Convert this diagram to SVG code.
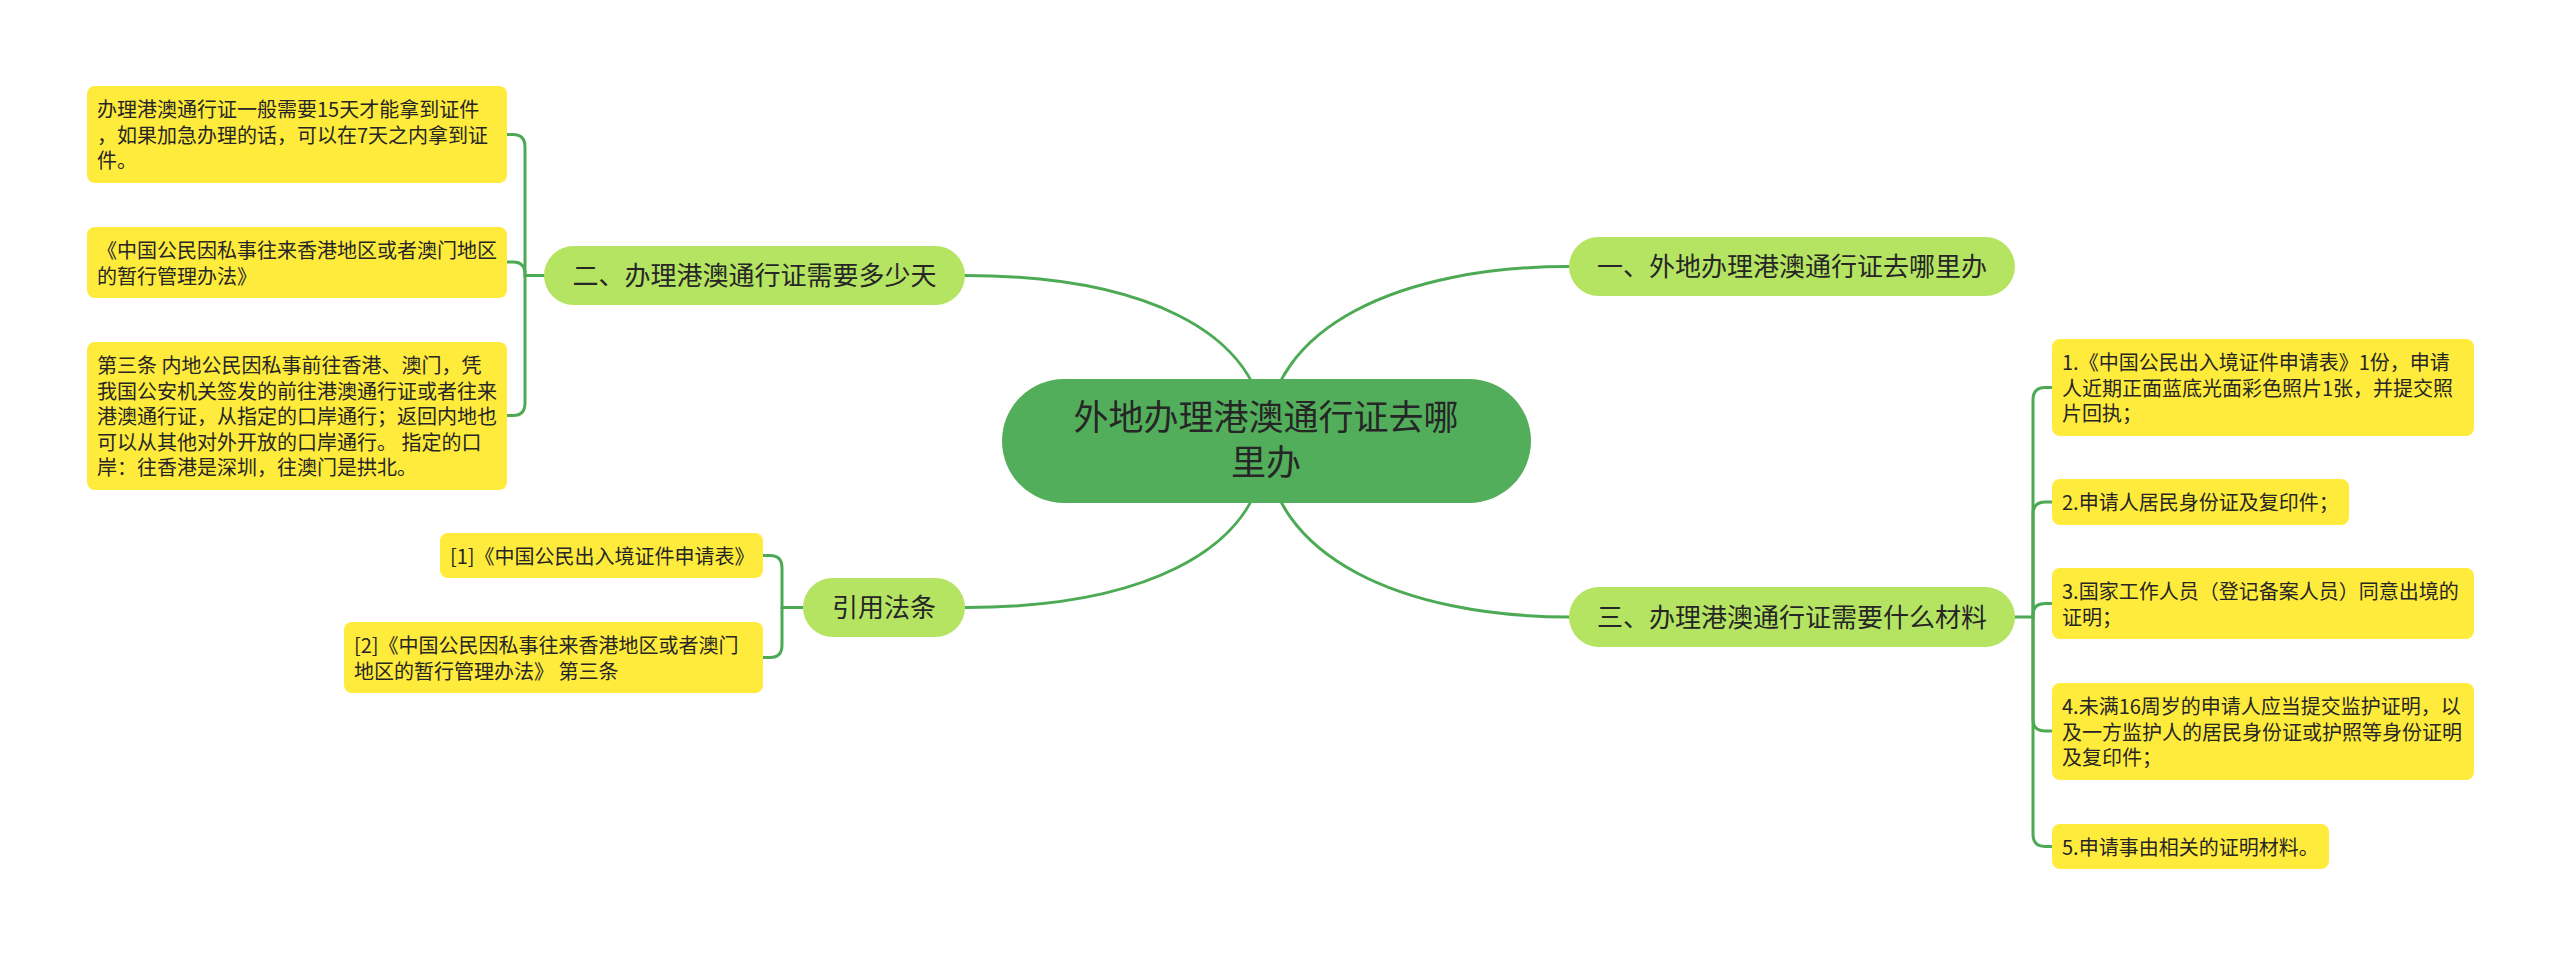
<svg xmlns="http://www.w3.org/2000/svg" width="2560" height="955" viewBox="0 0 2560 955">
<style>
.line{fill:none;stroke:#4caa55;stroke-width:3;stroke-linecap:round}
.root{fill:#52ae5b}
.branch{fill:#b5e462}
.leaf{fill:#ffeb3b}
text{font-family:"Noto Sans CJK SC","Noto Sans",sans-serif;fill:#262626}
.rt{font-size:35px;text-anchor:middle}
.bt{font-size:26px;text-anchor:middle}
.lt{font-size:20px}
</style>
<rect width="2560" height="955" fill="#ffffff"/>
<g id="connectors">
<path class="line" d="M1266,441 C1265,325 1130,275.5 965,275.5"/>
<path class="line" d="M1266,441 C1267,325 1404,266.5 1569,266.5"/>
<path class="line" d="M1266,441 C1265,557 1130,607.5 965,607.5"/>
<path class="line" d="M1266,441 C1267,557 1404,617 1569,617"/>
<path class="line" d="M544,275.5 H525 V147 Q525,134.5 513,134.5 H507"/>
<path class="line" d="M525,275.5 V274 Q525,262 513,262 H507"/>
<path class="line" d="M525,275.5 V403 Q525,415.5 513,415.5 H507"/>
<path class="line" d="M803,607.5 H782 V568 Q782,555.5 770,555.5 H763"/>
<path class="line" d="M782,607.5 V645 Q782,657.5 770,657.5 H763"/>
<path class="line" d="M2015,617 H2033 V400 Q2033,387.5 2045,387.5 H2052"/>
<path class="line" d="M2033,617 V514 Q2033,502 2045,502 H2052"/>
<path class="line" d="M2033,617 V615 Q2033,603.5 2045,603.5 H2052"/>
<path class="line" d="M2033,617 V719 Q2033,731 2045,731 H2052"/>
<path class="line" d="M2033,617 V834 Q2033,846.5 2045,846.5 H2052"/>
</g>
<g id="root">
<rect class="root" x="1002" y="379" width="529" height="124" rx="62"/>
<text class="rt" x="1266" y="430">外地办理港澳通行证去哪</text>
<text class="rt" x="1266" y="475">里办</text>
</g>
<g id="b2">
<rect class="branch" x="544" y="246" width="421" height="59" rx="29.5"/>
<text class="bt" x="754.5" y="285">二、办理港澳通行证需要多少天</text>
</g>
<g id="b4">
<rect class="branch" x="803" y="578" width="162" height="59" rx="29.5"/>
<text class="bt" x="884" y="617">引用法条</text>
</g>
<g id="b1">
<rect class="branch" x="1569" y="237" width="446" height="59" rx="29.5"/>
<text class="bt" x="1792" y="276">一、外地办理港澳通行证去哪里办</text>
</g>
<g id="b3">
<rect class="branch" x="1569" y="587" width="446" height="60" rx="30"/>
<text class="bt" x="1792" y="627">三、办理港澳通行证需要什么材料</text>
</g>
<g id="l1">
<rect class="leaf" x="87" y="86" width="420" height="97" rx="8"/>
<text class="lt" x="97" y="117">办理港澳通行证一般需要15天才能拿到证件</text>
<text class="lt" x="97" y="142.5">，如果加急办理的话，可以在7天之内拿到证</text>
<text class="lt" x="97" y="168">件。</text>
</g>
<g id="l2">
<rect class="leaf" x="87" y="227" width="420" height="71" rx="8"/>
<text class="lt" x="97" y="258">《中国公民因私事往来香港地区或者澳门地区</text>
<text class="lt" x="97" y="283.5">的暂行管理办法》</text>
</g>
<g id="l3">
<rect class="leaf" x="87" y="342" width="420" height="148" rx="8"/>
<text class="lt" x="97" y="373">第三条 内地公民因私事前往香港、澳门，凭</text>
<text class="lt" x="97" y="398.5">我国公安机关签发的前往港澳通行证或者往来</text>
<text class="lt" x="97" y="424">港澳通行证，从指定的口岸通行；返回内地也</text>
<text class="lt" x="97" y="449.5">可以从其他对外开放的口岸通行。 指定的口</text>
<text class="lt" x="97" y="475">岸：往香港是深圳，往澳门是拱北。</text>
</g>
<g id="c1">
<rect class="leaf" x="440" y="533" width="323" height="45" rx="8"/>
<text class="lt" x="450" y="564">[1]《中国公民出入境证件申请表》</text>
</g>
<g id="c2">
<rect class="leaf" x="344" y="622" width="419" height="71" rx="8"/>
<text class="lt" x="354" y="653">[2]《中国公民因私事往来香港地区或者澳门</text>
<text class="lt" x="354" y="678.5">地区的暂行管理办法》 第三条</text>
</g>
<g id="r1">
<rect class="leaf" x="2052" y="339" width="422" height="97" rx="8"/>
<text class="lt" x="2062" y="370">1.《中国公民出入境证件申请表》1份，申请</text>
<text class="lt" x="2062" y="395.5">人近期正面蓝底光面彩色照片1张，并提交照</text>
<text class="lt" x="2062" y="421">片回执；</text>
</g>
<g id="r2">
<rect class="leaf" x="2052" y="479" width="297" height="46" rx="8"/>
<text class="lt" x="2062" y="510">2.申请人居民身份证及复印件；</text>
</g>
<g id="r3">
<rect class="leaf" x="2052" y="568" width="422" height="71" rx="8"/>
<text class="lt" x="2062" y="599">3.国家工作人员（登记备案人员）同意出境的</text>
<text class="lt" x="2062" y="624.5">证明；</text>
</g>
<g id="r4">
<rect class="leaf" x="2052" y="683" width="422" height="97" rx="8"/>
<text class="lt" x="2062" y="714">4.未满16周岁的申请人应当提交监护证明，以</text>
<text class="lt" x="2062" y="739.5">及一方监护人的居民身份证或护照等身份证明</text>
<text class="lt" x="2062" y="765">及复印件；</text>
</g>
<g id="r5">
<rect class="leaf" x="2052" y="824" width="277" height="45" rx="8"/>
<text class="lt" x="2062" y="855">5.申请事由相关的证明材料。</text>
</g>
</svg>
